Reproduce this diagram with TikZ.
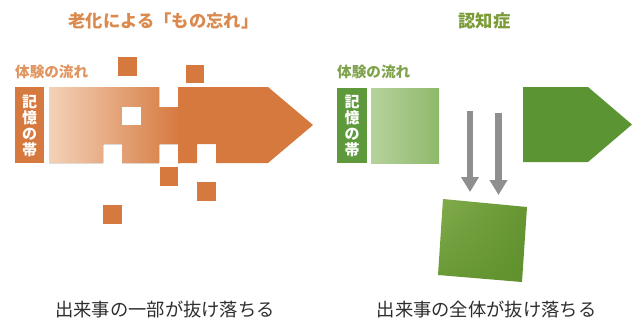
\documentclass[tikz,border=0pt]{standalone}
\usepackage{fontspec}
\setmainfont{Noto Sans CJK JP}
\usetikzlibrary{arrows.meta,shadings}
\definecolor{orTitle}{HTML}{DA8A4E}
\definecolor{orLabel}{HTML}{E0945E}
\definecolor{orDark}{HTML}{D6793F}
\definecolor{orLight}{HTML}{F3D2B8}
\definecolor{grTitle}{HTML}{7A9B36}
\definecolor{grLabel}{HTML}{7FA24C}
\definecolor{grDark}{HTML}{5E993C}
\definecolor{grLightA}{HTML}{B6D29C}
\definecolor{grLightB}{HTML}{8EB96A}
\definecolor{grArrow}{HTML}{5B9533}
\definecolor{grFallA}{HTML}{82AC4C}
\definecolor{grFallB}{HTML}{5F902C}
\definecolor{greyArrow}{HTML}{8F8F8F}
\definecolor{txtDark}{HTML}{2E2E2E}
\tikzset{
  titletext/.style={font=\bfseries\fontsize{17.3}{20}\selectfont, inner sep=0pt},
  flowtext/.style={font=\bfseries\fontsize{14.6}{16}\selectfont, inner sep=0pt, anchor=west},
  bandtext/.style={font=\bfseries\fontsize{15}{16}\selectfont, text=white, align=center, inner sep=0pt},
  bottomtext/.style={font=\fontsize{18.3}{21}\selectfont, text=txtDark, inner sep=0pt},
  bit/.style={fill=orDark},
  fallarrow/.style={draw=greyArrow, line width=6.5pt, -{Triangle[width=17pt,length=15pt]}},
}
\begin{document}
\begin{tikzpicture}[x=1pt,y=-1pt]
\useasboundingbox (0,0) rectangle (637,322);
% ---------- left panel ----------
\node[titletext, text=orTitle] (tl) at (163.5,21) {老化による「もの忘れ」};
\node[flowtext, text=orLabel] (fl) at (15,72) {体験の流れ};
\fill[orDark] (15,87) rectangle (44,163);
\node[bandtext] (bl) at (29.5,126) {記\\憶\\の\\帯};
\begin{scope}
  \clip (49,87) -- (159,87) -- (159,107) -- (178,107) -- (178,87) -- (268,87)
        -- (313,125) -- (268,163) -- (216,163) -- (216,144) -- (197,144)
        -- (197,163) -- (178,163) -- (178,144) -- (159,144) -- (159,163)
        -- (122,163) -- (122,144) -- (103,144) -- (103,163) -- (49,163) -- cycle;
  \fill[left color=orLight, right color=orDark] (49,80) rectangle (180,170);
  \fill[orDark] (179.5,80) rectangle (320,170);
\end{scope}
\fill[white] (122,107) rectangle (141,125);
\fill[bit] (118,57) rectangle (137,76);
\fill[bit] (186,65) rectangle (204,83);
\fill[bit] (160,167) rectangle (178,186);
\fill[bit] (197,182) rectangle (216,201);
\fill[bit] (103,205) rectangle (122,224);
\node[bottomtext] (bl2) at (165,310) {出来事の一部が抜け落ちる};
% ---------- right panel ----------
\node[titletext, text=grTitle] (tr) at (484.5,21) {認知症};
\node[flowtext, text=grLabel] (fr) at (337,72) {体験の流れ};
\fill[grDark] (337,88) rectangle (367,163);
\node[bandtext] (br) at (352,126) {記\\憶\\の\\帯};
\fill[left color=grLightA, right color=grLightB] (371,88) rectangle (439,163);
\fill[grArrow] (523,87) -- (588,87) -- (632,124.5) -- (588,162) -- (523,162) -- cycle;
\coordinate (a1s) at (470,111);
\coordinate (a1e) at (470,192);
\coordinate (a2s) at (498.5,113);
\coordinate (a2e) at (498.5,195);
\draw[fallarrow] (a1s) -- (a1e);
\draw[fallarrow] (a2s) -- (a2e);
\shade[upper left=grFallA, upper right=grFallB!80!grFallA, lower left=grFallB!70!grFallA, lower right=grFallB]
  (443,199) -- (527,207) -- (522,282) -- (438,275) -- cycle;
\node[bottomtext] (br2) at (486.5,310) {出来事の全体が抜け落ちる};
\end{tikzpicture}
\end{document}
